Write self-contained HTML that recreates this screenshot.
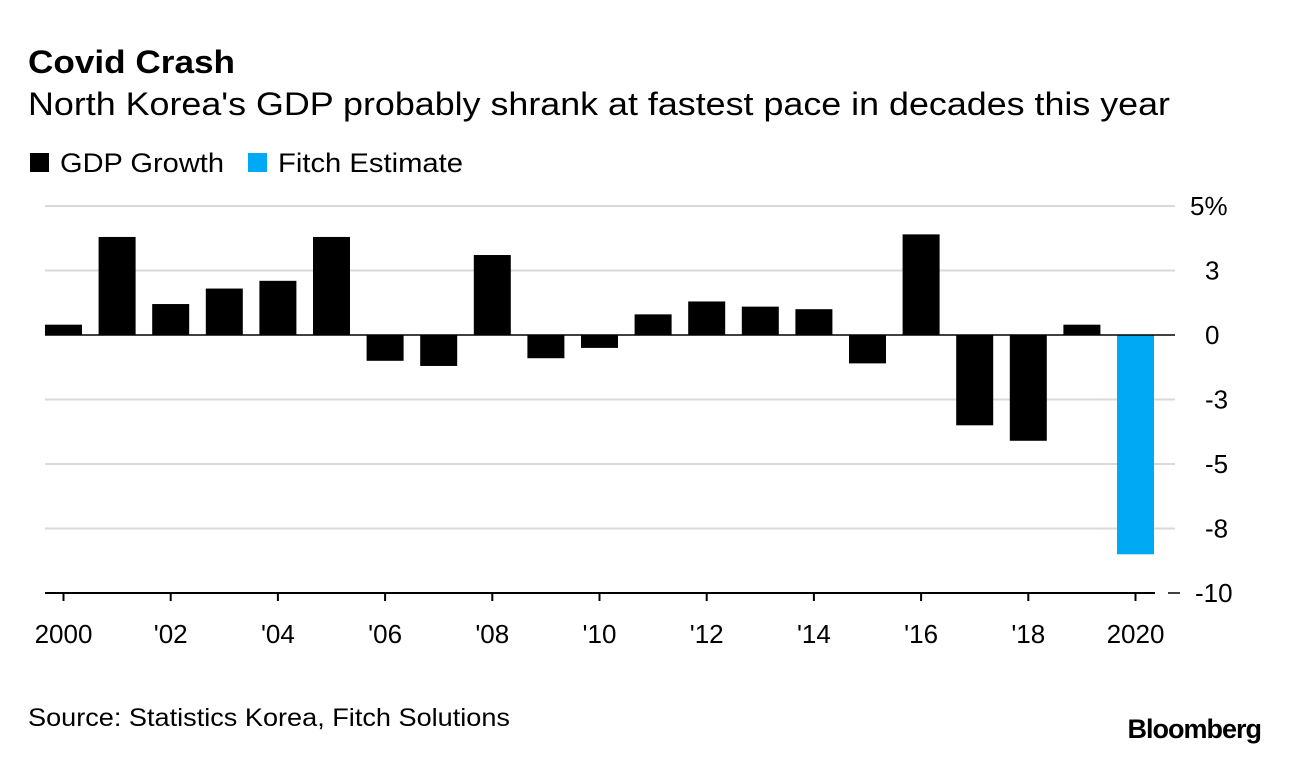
<!DOCTYPE html>
<html><head><meta charset="utf-8"><style>
body{margin:0;background:#fff;font-family:"Liberation Sans",Arial,sans-serif;}
svg text{font-family:"Liberation Sans",Arial,sans-serif;}
</style></head><body>
<svg width="1289" height="756" xmlns="http://www.w3.org/2000/svg">
<text x="28" y="73" font-size="32" font-weight="bold" fill="#000" textLength="207" lengthAdjust="spacingAndGlyphs">Covid Crash</text>
<text x="28" y="115" font-size="32" fill="#000" textLength="1142" lengthAdjust="spacingAndGlyphs">North Korea's GDP probably shrank at fastest pace in decades this year</text>
<rect x="30" y="153" width="19" height="19" fill="#000"/>
<text x="60" y="172" font-size="27" textLength="164" lengthAdjust="spacingAndGlyphs">GDP Growth</text>
<rect x="248" y="153" width="19" height="19" fill="#00a9f4"/>
<text x="278" y="172" font-size="27" textLength="185" lengthAdjust="spacingAndGlyphs">Fitch Estimate</text>
<g id="grid"></g><g id="bars"></g><g id="axes"></g>
<text x="28" y="726" font-size="25" textLength="482" lengthAdjust="spacingAndGlyphs">Source: Statistics Korea, Fitch Solutions</text>
<text x="1261" y="738" font-size="27" font-weight="bold" text-anchor="end" letter-spacing="-1">Bloomberg</text>
</svg>
<script>
const years=[2000,2001,2002,2003,2004,2005,2006,2007,2008,2009,2010,2011,2012,2013,2014,2015,2016,2017,2018,2019,2020];
const growth=[0.4,3.8,1.2,1.8,2.1,3.8,-1.0,-1.2,3.1,-0.9,-0.5,0.8,1.3,1.1,1.0,-1.1,3.9,-3.5,-4.1,0.4,-8.5];
const estimateFlags=[0,0,0,0,0,0,0,0,0,0,0,0,0,0,0,0,0,0,0,0,1];
const yTicks=[5,2.5,0,-2.5,-5,-7.5,-10];
const yTickLabels=["5%","3","0","-3","-5","-8","-10"];
const xTickYears=[2000,2002,2004,2006,2008,2010,2012,2014,2016,2018,2020];
const xTickLabels=["2000","'02","'04","'06","'08","'10","'12","'14","'16","'18","2020"];
const NS="http://www.w3.org/2000/svg";
const y0=335,ppu=25.8,x0=63.5,pitch=53.6,bw=37;
const Y=v=>y0-v*ppu, X=yr=>x0+(yr-2000)*pitch;
function mk(t,a,p){const e=document.createElementNS(NS,t);for(const k in a)e.setAttribute(k,a[k]);p.appendChild(e);return e;}
const grid=document.getElementById('grid'),bars=document.getElementById('bars'),axes=document.getElementById('axes');
yTicks.forEach((v,i)=>{
 if(v!==0&&v!==-10){const l=mk('line',{x1:45,x2:1175,y1:Y(v),y2:Y(v),stroke:'#d9d9d9','stroke-width':2},grid);
 
 }
 const t=mk('text',{x:v===5?1190:(v===-10?1195:1205),y:Y(v)+9,'font-size':26,fill:'#000'},axes);t.textContent=yTickLabels[i];
 
 
});
const dash=mk('line',{x1:1168,x2:1180,y1:Y(-10),y2:Y(-10),stroke:'#000','stroke-width':1.5},axes);


years.forEach((yr,i)=>{
 const v=growth[i];const r=mk('rect',{x:X(yr)-bw/2,y:Math.min(Y(v),y0),width:bw,height:Math.abs(v*ppu),fill:estimateFlags[i]?'#00a9f4':'#000'},bars);
 
 
});
const z=mk('line',{x1:45,x2:1175,y1:y0,y2:y0,stroke:'#000','stroke-width':1.5},axes);


const b=mk('line',{x1:45,x2:1155,y1:Y(-10),y2:Y(-10),stroke:'#000','stroke-width':2},axes);


xTickYears.forEach((yr,i)=>{
 const tk=mk('line',{x1:X(yr),x2:X(yr),y1:Y(-10),y2:Y(-10)+8,stroke:'#000','stroke-width':2},axes);
 
 
 const t=mk('text',{x:X(yr),y:643,'font-size':26,'text-anchor':'middle'},axes);t.textContent=xTickLabels[i];
 
 
});
</script>
</body></html>
